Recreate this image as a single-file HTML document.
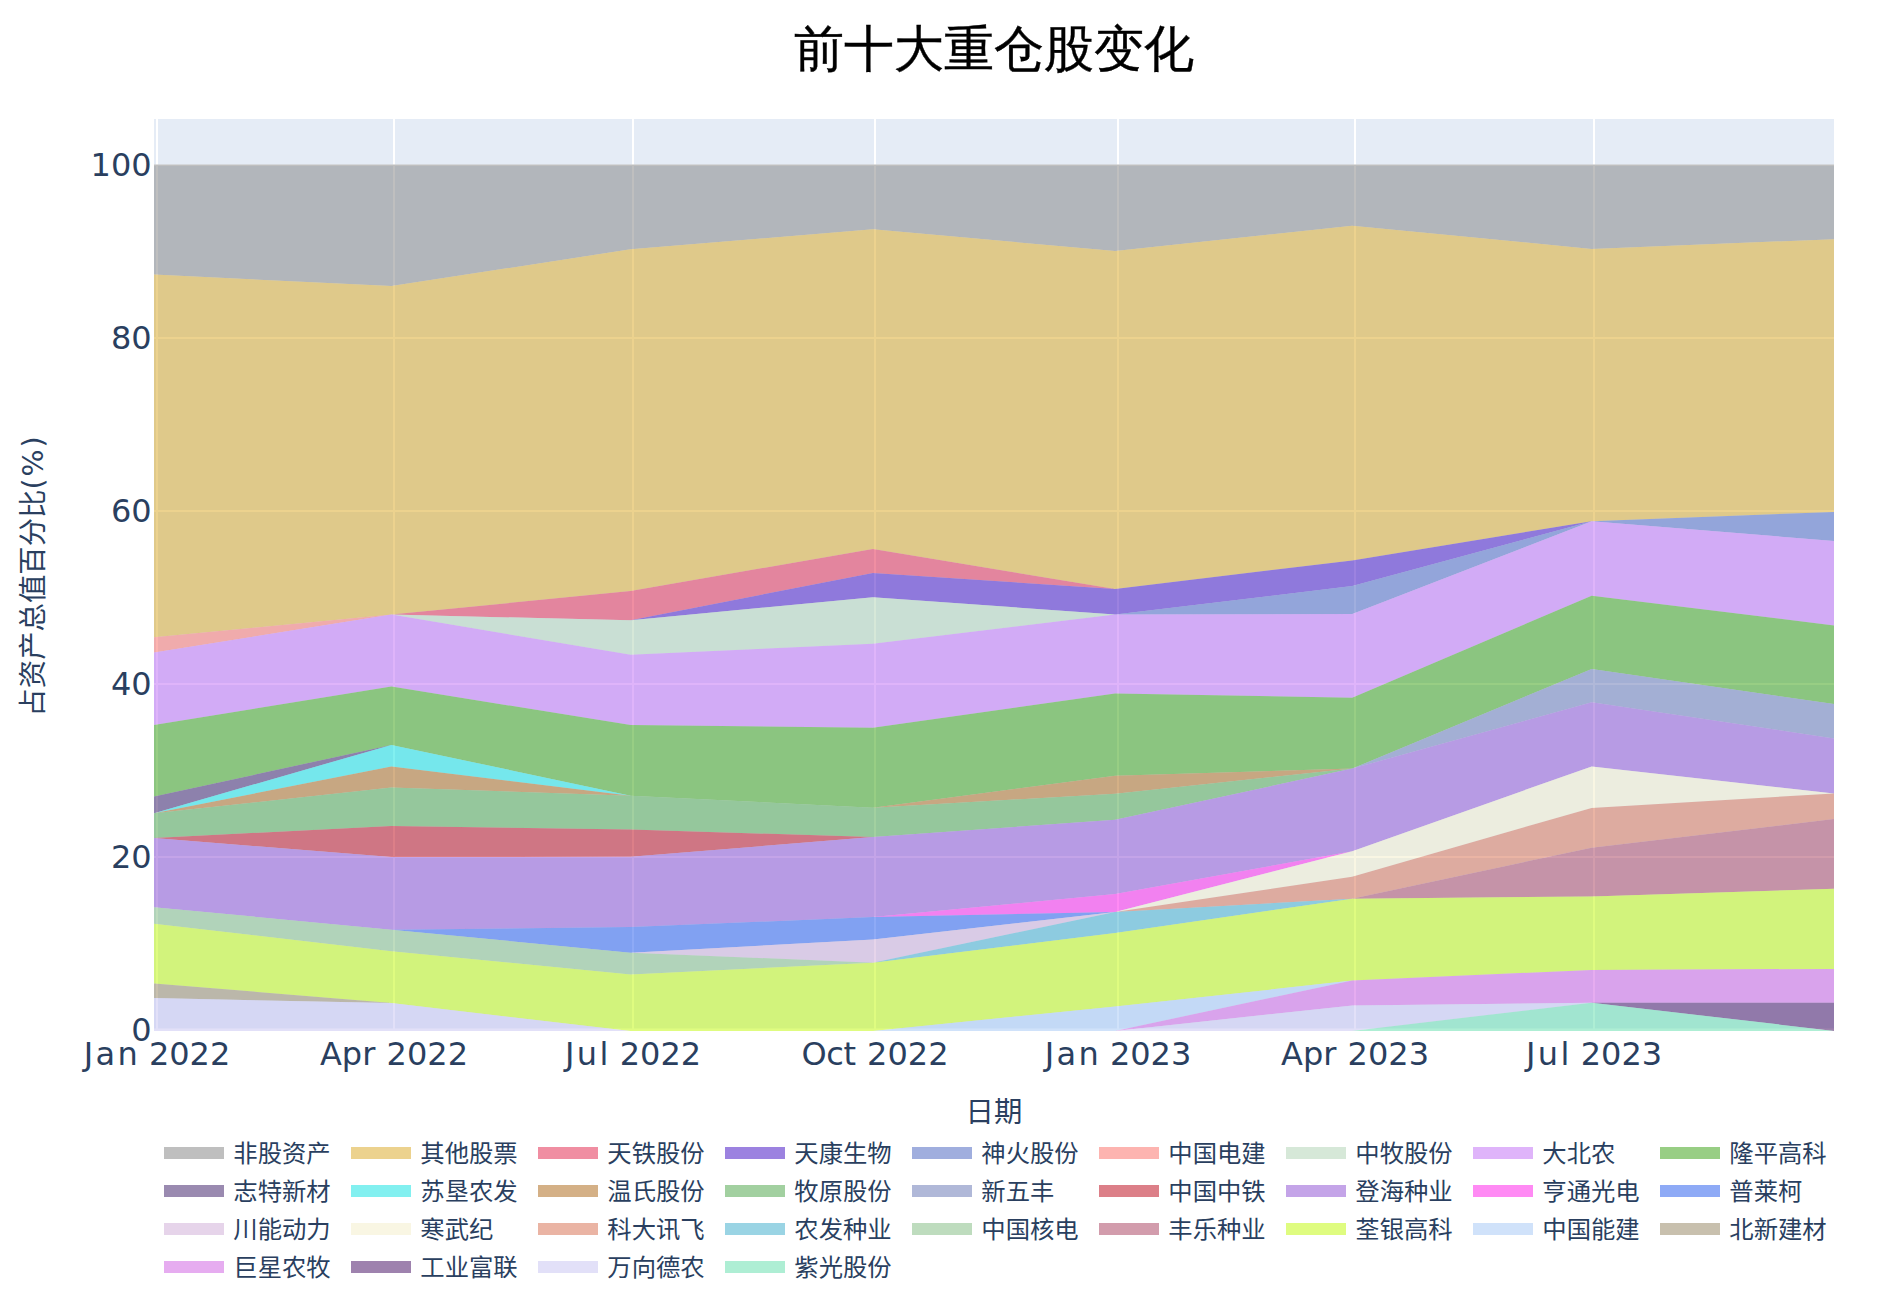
<!DOCTYPE html>
<html lang="zh"><head><meta charset="utf-8"><title>前十大重仓股变化</title>
<style>
html,body{margin:0;padding:0;background:#fff;}
body{width:1877px;height:1295px;overflow:hidden;}
svg{display:block;}
.t{font-family:"DejaVu Sans","Liberation Sans","Noto Sans CJK SC",sans-serif;fill:#2a3f5f;}
.c{font-family:"Liberation Sans","Noto Sans CJK SC",sans-serif;fill:#2a3f5f;}
</style></head><body>
<svg width="1877" height="1295" viewBox="0 0 1877 1295">
<rect x="0" y="0" width="1877" height="1295" fill="#ffffff"/>
<rect x="154.0" y="119.0" width="1680.0" height="911.9" fill="#E5ECF6"/>
<defs><clipPath id="pc"><rect x="154.0" y="119.0" width="1680.0" height="911.9"/></clipPath></defs>
<g clip-path="url(#pc)">
<line x1="157.0" x2="157.0" y1="119.0" y2="1030.9" stroke="#fff" stroke-width="2"/>
<line x1="394.0" x2="394.0" y1="119.0" y2="1030.9" stroke="#fff" stroke-width="2"/>
<line x1="633.0" x2="633.0" y1="119.0" y2="1030.9" stroke="#fff" stroke-width="2"/>
<line x1="875.0" x2="875.0" y1="119.0" y2="1030.9" stroke="#fff" stroke-width="2"/>
<line x1="1118.0" x2="1118.0" y1="119.0" y2="1030.9" stroke="#fff" stroke-width="2"/>
<line x1="1355.0" x2="1355.0" y1="119.0" y2="1030.9" stroke="#fff" stroke-width="2"/>
<line x1="1594.0" x2="1594.0" y1="119.0" y2="1030.9" stroke="#fff" stroke-width="2"/>
<line x1="154.0" x2="1834.0" y1="857.0" y2="857.0" stroke="#fff" stroke-width="2"/>
<line x1="154.0" x2="1834.0" y1="684.0" y2="684.0" stroke="#fff" stroke-width="2"/>
<line x1="154.0" x2="1834.0" y1="511.0" y2="511.0" stroke="#fff" stroke-width="2"/>
<line x1="154.0" x2="1834.0" y1="338.0" y2="338.0" stroke="#fff" stroke-width="2"/>
<line x1="154.0" x2="1834.0" y1="165.3" y2="165.3" stroke="#fff" stroke-width="1.4"/>
<line x1="154.0" x2="1834.0" y1="1029.75" y2="1029.75" stroke="#fff" stroke-width="2.3"/>
<polygon points="154.0,164.6 391.4,164.6 630.6,164.6 872.9,164.6 1115.1,164.6 1352.2,164.6 1591.7,164.6 1834.0,164.6 1834.0,239.2 1591.7,248.9 1352.2,225.8 1115.1,251.1 872.9,229.3 630.6,249.3 391.4,286.1 154.0,274.6" fill="rgba(127,127,127,0.5)"/>
<polygon points="154.0,274.6 391.4,286.1 630.6,249.3 872.9,229.3 1115.1,251.1 1352.2,225.8 1591.7,248.9 1834.0,239.2 1834.0,511.9 1591.7,521.3 1352.2,560.4 1115.1,589.1 872.9,548.9 630.6,591.1 391.4,614.5 154.0,637.2" fill="rgba(217,165,29,0.5)"/>
<polygon points="154.0,637.2 391.4,614.5 630.6,591.1 872.9,548.9 1115.1,589.1 1352.2,560.4 1591.7,521.3 1834.0,511.9 1834.0,511.9 1591.7,521.3 1352.2,560.4 1115.1,589.1 872.9,572.9 630.6,620.3 391.4,614.5 154.0,637.2" fill="rgba(225,29,69,0.5)"/>
<polygon points="154.0,637.2 391.4,614.5 630.6,620.3 872.9,572.9 1115.1,589.1 1352.2,560.4 1591.7,521.3 1834.0,511.9 1834.0,511.9 1591.7,521.3 1352.2,586.0 1115.1,614.6 872.9,597.2 630.6,620.3 391.4,614.5 154.0,637.2" fill="rgba(57,5,193,0.5)"/>
<polygon points="154.0,637.2 391.4,614.5 630.6,620.3 872.9,597.2 1115.1,614.6 1352.2,586.0 1591.7,521.3 1834.0,511.9 1834.0,541.0 1591.7,521.3 1352.2,613.9 1115.1,614.6 872.9,597.2 630.6,620.3 391.4,614.5 154.0,637.2" fill="rgba(65,93,189,0.5)"/>
<polygon points="154.0,637.2 391.4,614.5 630.6,620.3 872.9,597.2 1115.1,614.6 1352.2,613.9 1591.7,521.3 1834.0,541.0 1834.0,541.0 1591.7,521.3 1352.2,613.9 1115.1,614.6 872.9,597.2 630.6,620.3 391.4,614.5 154.0,652.6" fill="rgba(251,105,97,0.5)"/>
<polygon points="154.0,652.6 391.4,614.5 630.6,620.3 872.9,597.2 1115.1,614.6 1352.2,613.9 1591.7,521.3 1834.0,541.0 1834.0,541.0 1591.7,521.3 1352.2,613.9 1115.1,614.6 872.9,643.8 630.6,654.8 391.4,614.5 154.0,652.6" fill="rgba(173,209,177,0.5)"/>
<polygon points="154.0,652.6 391.4,614.5 630.6,654.8 872.9,643.8 1115.1,614.6 1352.2,613.9 1591.7,521.3 1834.0,541.0 1834.0,625.5 1591.7,595.7 1352.2,697.7 1115.1,693.4 872.9,727.7 630.6,725.1 391.4,686.6 154.0,725.0" fill="rgba(191,105,245,0.5)"/>
<polygon points="154.0,725.0 391.4,686.6 630.6,725.1 872.9,727.7 1115.1,693.4 1352.2,697.7 1591.7,595.7 1834.0,625.5 1834.0,704.0 1591.7,668.9 1352.2,768.6 1115.1,775.8 872.9,807.7 630.6,795.7 391.4,744.9 154.0,796.6" fill="rgba(49,157,9,0.5)"/>
<polygon points="154.0,796.6 391.4,744.9 630.6,795.7 872.9,807.7 1115.1,775.8 1352.2,768.6 1591.7,668.9 1834.0,704.0 1834.0,704.0 1591.7,668.9 1352.2,768.6 1115.1,775.8 872.9,807.7 630.6,795.7 391.4,744.9 154.0,813.2" fill="rgba(53,21,97,0.5)"/>
<polygon points="154.0,813.2 391.4,744.9 630.6,795.7 872.9,807.7 1115.1,775.8 1352.2,768.6 1591.7,668.9 1834.0,704.0 1834.0,704.0 1591.7,668.9 1352.2,768.6 1115.1,775.8 872.9,807.7 630.6,795.7 391.4,766.6 154.0,813.2" fill="rgba(5,225,225,0.5)"/>
<polygon points="154.0,813.2 391.4,766.6 630.6,795.7 872.9,807.7 1115.1,775.8 1352.2,768.6 1591.7,668.9 1834.0,704.0 1834.0,704.0 1591.7,668.9 1352.2,768.6 1115.1,793.7 872.9,807.7 630.6,795.7 391.4,787.6 154.0,813.2" fill="rgba(169,97,13,0.5)"/>
<polygon points="154.0,813.2 391.4,787.6 630.6,795.7 872.9,807.7 1115.1,793.7 1352.2,768.6 1591.7,668.9 1834.0,704.0 1834.0,704.0 1591.7,668.9 1352.2,768.6 1115.1,819.7 872.9,837.1 630.6,829.5 391.4,826.0 154.0,838.0" fill="rgba(69,161,65,0.5)"/>
<polygon points="154.0,838.0 391.4,826.0 630.6,829.5 872.9,837.1 1115.1,819.7 1352.2,768.6 1591.7,668.9 1834.0,704.0 1834.0,738.4 1591.7,702.2 1352.2,768.6 1115.1,819.7 872.9,837.1 630.6,829.5 391.4,826.0 154.0,838.0" fill="rgba(97,113,177,0.5)"/>
<polygon points="154.0,838.0 391.4,826.0 630.6,829.5 872.9,837.1 1115.1,819.7 1352.2,768.6 1591.7,702.2 1834.0,738.4 1834.0,738.4 1591.7,702.2 1352.2,768.6 1115.1,819.7 872.9,837.1 630.6,856.8 391.4,857.0 154.0,838.0" fill="rgba(185,0,17,0.5)"/>
<polygon points="154.0,838.0 391.4,857.0 630.6,856.8 872.9,837.1 1115.1,819.7 1352.2,768.6 1591.7,702.2 1834.0,738.4 1834.0,793.4 1591.7,766.4 1352.2,851.2 1115.1,894.1 872.9,917.1 630.6,927.1 391.4,929.7 154.0,907.2" fill="rgba(137,73,209,0.5)"/>
<polygon points="154.0,907.2 391.4,929.7 630.6,927.1 872.9,917.1 1115.1,894.1 1352.2,851.2 1591.7,766.4 1834.0,793.4 1834.0,793.4 1591.7,766.4 1352.2,851.2 1115.1,912.0 872.9,917.1 630.6,927.1 391.4,929.7 154.0,907.2" fill="rgba(255,21,233,0.5)"/>
<polygon points="154.0,907.2 391.4,929.7 630.6,927.1 872.9,917.1 1115.1,912.0 1352.2,851.2 1591.7,766.4 1834.0,793.4 1834.0,793.4 1591.7,766.4 1352.2,851.2 1115.1,912.0 872.9,939.4 630.6,952.7 391.4,929.7 154.0,907.2" fill="rgba(29,85,237,0.5)"/>
<polygon points="154.0,907.2 391.4,929.7 630.6,952.7 872.9,939.4 1115.1,912.0 1352.2,851.2 1591.7,766.4 1834.0,793.4 1834.0,793.4 1591.7,766.4 1352.2,851.2 1115.1,912.0 872.9,962.7 630.6,952.7 391.4,929.7 154.0,907.2" fill="rgba(205,169,213,0.5)"/>
<polygon points="154.0,907.2 391.4,929.7 630.6,952.7 872.9,962.7 1115.1,912.0 1352.2,851.2 1591.7,766.4 1834.0,793.4 1834.0,793.4 1591.7,807.9 1352.2,876.7 1115.1,912.0 872.9,962.7 630.6,952.7 391.4,929.7 154.0,907.2" fill="rgba(243,237,199,0.5)"/>
<polygon points="154.0,907.2 391.4,929.7 630.6,952.7 872.9,962.7 1115.1,912.0 1352.2,876.7 1591.7,807.9 1834.0,793.4 1834.0,819.0 1591.7,847.7 1352.2,898.7 1115.1,912.0 872.9,962.7 630.6,952.7 391.4,929.7 154.0,907.2" fill="rgba(213,105,73,0.5)"/>
<polygon points="154.0,907.2 391.4,929.7 630.6,952.7 872.9,962.7 1115.1,912.0 1352.2,898.7 1591.7,847.7 1834.0,819.0 1834.0,819.0 1591.7,847.7 1352.2,898.7 1115.1,933.0 872.9,962.7 630.6,952.7 391.4,929.7 154.0,907.2" fill="rgba(53,169,201,0.5)"/>
<polygon points="154.0,907.2 391.4,929.7 630.6,952.7 872.9,962.7 1115.1,933.0 1352.2,898.7 1591.7,847.7 1834.0,819.0 1834.0,819.0 1591.7,847.7 1352.2,898.7 1115.1,933.0 872.9,962.7 630.6,974.4 391.4,951.2 154.0,923.8" fill="rgba(125,185,125,0.5)"/>
<polygon points="154.0,923.8 391.4,951.2 630.6,974.4 872.9,962.7 1115.1,933.0 1352.2,898.7 1591.7,847.7 1834.0,819.0 1834.0,888.8 1591.7,896.5 1352.2,898.7 1115.1,933.0 872.9,962.7 630.6,974.4 391.4,951.2 154.0,923.8" fill="rgba(165,57,89,0.5)"/>
<polygon points="154.0,923.8 391.4,951.2 630.6,974.4 872.9,962.7 1115.1,933.0 1352.2,898.7 1591.7,896.5 1834.0,888.8 1834.0,968.9 1591.7,969.9 1352.2,980.6 1115.1,1006.6 872.9,1030.9 630.6,1030.9 391.4,1003.1 154.0,983.4" fill="rgba(191,249,1,0.5)"/>
<polygon points="154.0,983.4 391.4,1003.1 630.6,1030.9 872.9,1030.9 1115.1,1006.6 1352.2,980.6 1591.7,969.9 1834.0,968.9 1834.0,968.9 1591.7,969.9 1352.2,980.6 1115.1,1030.9 872.9,1030.9 630.6,1030.9 391.4,1003.1 154.0,983.4" fill="rgba(161,197,245,0.5)"/>
<polygon points="154.0,983.4 391.4,1003.1 630.6,1030.9 872.9,1030.9 1115.1,1030.9 1352.2,980.6 1591.7,969.9 1834.0,968.9 1834.0,968.9 1591.7,969.9 1352.2,980.6 1115.1,1030.9 872.9,1030.9 630.6,1030.9 391.4,1003.1 154.0,998.0" fill="rgba(145,129,93,0.5)"/>
<polygon points="154.0,998.0 391.4,1003.1 630.6,1030.9 872.9,1030.9 1115.1,1030.9 1352.2,980.6 1591.7,969.9 1834.0,968.9 1834.0,1002.7 1591.7,1002.7 1352.2,1005.4 1115.1,1030.9 872.9,1030.9 630.6,1030.9 391.4,1003.1 154.0,998.0" fill="rgba(205,89,225,0.5)"/>
<polygon points="154.0,998.0 391.4,1003.1 630.6,1030.9 872.9,1030.9 1115.1,1030.9 1352.2,1005.4 1591.7,1002.7 1834.0,1002.7 1834.0,1030.9 1591.7,1002.7 1352.2,1005.4 1115.1,1030.9 872.9,1030.9 630.6,1030.9 391.4,1003.1 154.0,998.0" fill="rgba(61,5,93,0.5)"/>
<polygon points="154.0,998.0 391.4,1003.1 630.6,1030.9 872.9,1030.9 1115.1,1030.9 1352.2,1005.4 1591.7,1002.7 1834.0,1030.9 1834.0,1030.9 1591.7,1002.7 1352.2,1030.9 1115.1,1030.9 872.9,1030.9 630.6,1030.9 391.4,1030.9 154.0,1030.9" fill="rgba(197,193,241,0.5)"/>
<polygon points="154.0,1030.9 391.4,1030.9 630.6,1030.9 872.9,1030.9 1115.1,1030.9 1352.2,1030.9 1591.7,1002.7 1834.0,1030.9 1834.0,1030.9 1591.7,1030.9 1352.2,1030.9 1115.1,1030.9 872.9,1030.9 630.6,1030.9 391.4,1030.9 154.0,1030.9" fill="rgba(93,221,169,0.5)"/>
</g>
<text x="994" y="66" text-anchor="middle" font-size="50" style="font-family:'Liberation Sans','WenQuanYi Zen Hei',sans-serif" fill="#000" stroke="#000" stroke-width="0.4">前十大重仓股变化</text>
<text class="t" x="151.7" y="1041.4" text-anchor="end" font-size="32">0</text>
<text class="t" x="151.7" y="868.3" text-anchor="end" font-size="32">20</text>
<text class="t" x="151.7" y="695.2" text-anchor="end" font-size="32">40</text>
<text class="t" x="151.7" y="522.1" text-anchor="end" font-size="32">60</text>
<text class="t" x="151.7" y="349.0" text-anchor="end" font-size="32">80</text>
<text class="t" x="151.7" y="175.9" text-anchor="end" font-size="32">100</text>
<text class="t" y="1065" font-size="32"><tspan x="83.7" textLength="54.0" lengthAdjust="spacing">Jan</tspan> <tspan x="148.9">2022</tspan></text>
<text class="t" y="1065" font-size="32"><tspan x="319.9" textLength="55.5" lengthAdjust="spacing">Apr</tspan> <tspan x="386.6">2022</tspan></text>
<text class="t" y="1065" font-size="32"><tspan x="564.9" textLength="43.6" lengthAdjust="spacing">Jul</tspan> <tspan x="619.7">2022</tspan></text>
<text class="t" y="1065" font-size="32"><tspan x="801.5" textLength="54.5" lengthAdjust="spacing">Oct</tspan> <tspan x="867.1">2022</tspan></text>
<text class="t" y="1065" font-size="32"><tspan x="1044.7" textLength="54.0" lengthAdjust="spacing">Jan</tspan> <tspan x="1109.9">2023</tspan></text>
<text class="t" y="1065" font-size="32"><tspan x="1281.0" textLength="55.5" lengthAdjust="spacing">Apr</tspan> <tspan x="1347.6">2023</tspan></text>
<text class="t" y="1065" font-size="32"><tspan x="1525.9" textLength="43.6" lengthAdjust="spacing">Jul</tspan> <tspan x="1580.7">2023</tspan></text>
<text class="c" x="994" y="1122.4" text-anchor="middle" font-size="28.4">日期</text>
<text class="c" transform="translate(43,575.5) rotate(-90)" text-anchor="middle" font-size="28.4">占资产总值百分比<tspan class="t" letter-spacing="2">(%)</tspan></text>
<rect x="164.0" y="1147.0" width="60" height="12" fill="rgba(127,127,127,0.5)"/>
<text class="c" x="233.3" y="1161.5" font-size="24.35">非股资产</text>
<rect x="351.0" y="1147.0" width="60" height="12" fill="rgba(217,165,29,0.5)"/>
<text class="c" x="420.3" y="1161.5" font-size="24.35">其他股票</text>
<rect x="538.0" y="1147.0" width="60" height="12" fill="rgba(225,29,69,0.5)"/>
<text class="c" x="607.3" y="1161.5" font-size="24.35">天铁股份</text>
<rect x="725.0" y="1147.0" width="60" height="12" fill="rgba(57,5,193,0.5)"/>
<text class="c" x="794.3" y="1161.5" font-size="24.35">天康生物</text>
<rect x="912.0" y="1147.0" width="60" height="12" fill="rgba(65,93,189,0.5)"/>
<text class="c" x="981.3" y="1161.5" font-size="24.35">神火股份</text>
<rect x="1099.0" y="1147.0" width="60" height="12" fill="rgba(251,105,97,0.5)"/>
<text class="c" x="1168.3" y="1161.5" font-size="24.35">中国电建</text>
<rect x="1286.0" y="1147.0" width="60" height="12" fill="rgba(173,209,177,0.5)"/>
<text class="c" x="1355.3" y="1161.5" font-size="24.35">中牧股份</text>
<rect x="1473.0" y="1147.0" width="60" height="12" fill="rgba(191,105,245,0.5)"/>
<text class="c" x="1542.3" y="1161.5" font-size="24.35">大北农</text>
<rect x="1660.0" y="1147.0" width="60" height="12" fill="rgba(49,157,9,0.5)"/>
<text class="c" x="1729.3" y="1161.5" font-size="24.35">隆平高科</text>
<rect x="164.0" y="1185.0" width="60" height="12" fill="rgba(53,21,97,0.5)"/>
<text class="c" x="233.3" y="1199.5" font-size="24.35">志特新材</text>
<rect x="351.0" y="1185.0" width="60" height="12" fill="rgba(5,225,225,0.5)"/>
<text class="c" x="420.3" y="1199.5" font-size="24.35">苏垦农发</text>
<rect x="538.0" y="1185.0" width="60" height="12" fill="rgba(169,97,13,0.5)"/>
<text class="c" x="607.3" y="1199.5" font-size="24.35">温氏股份</text>
<rect x="725.0" y="1185.0" width="60" height="12" fill="rgba(69,161,65,0.5)"/>
<text class="c" x="794.3" y="1199.5" font-size="24.35">牧原股份</text>
<rect x="912.0" y="1185.0" width="60" height="12" fill="rgba(97,113,177,0.5)"/>
<text class="c" x="981.3" y="1199.5" font-size="24.35">新五丰</text>
<rect x="1099.0" y="1185.0" width="60" height="12" fill="rgba(185,0,17,0.5)"/>
<text class="c" x="1168.3" y="1199.5" font-size="24.35">中国中铁</text>
<rect x="1286.0" y="1185.0" width="60" height="12" fill="rgba(137,73,209,0.5)"/>
<text class="c" x="1355.3" y="1199.5" font-size="24.35">登海种业</text>
<rect x="1473.0" y="1185.0" width="60" height="12" fill="rgba(255,21,233,0.5)"/>
<text class="c" x="1542.3" y="1199.5" font-size="24.35">亨通光电</text>
<rect x="1660.0" y="1185.0" width="60" height="12" fill="rgba(29,85,237,0.5)"/>
<text class="c" x="1729.3" y="1199.5" font-size="24.35">普莱柯</text>
<rect x="164.0" y="1223.0" width="60" height="12" fill="rgba(205,169,213,0.5)"/>
<text class="c" x="233.3" y="1237.5" font-size="24.35">川能动力</text>
<rect x="351.0" y="1223.0" width="60" height="12" fill="rgba(243,237,199,0.5)"/>
<text class="c" x="420.3" y="1237.5" font-size="24.35">寒武纪</text>
<rect x="538.0" y="1223.0" width="60" height="12" fill="rgba(213,105,73,0.5)"/>
<text class="c" x="607.3" y="1237.5" font-size="24.35">科大讯飞</text>
<rect x="725.0" y="1223.0" width="60" height="12" fill="rgba(53,169,201,0.5)"/>
<text class="c" x="794.3" y="1237.5" font-size="24.35">农发种业</text>
<rect x="912.0" y="1223.0" width="60" height="12" fill="rgba(125,185,125,0.5)"/>
<text class="c" x="981.3" y="1237.5" font-size="24.35">中国核电</text>
<rect x="1099.0" y="1223.0" width="60" height="12" fill="rgba(165,57,89,0.5)"/>
<text class="c" x="1168.3" y="1237.5" font-size="24.35">丰乐种业</text>
<rect x="1286.0" y="1223.0" width="60" height="12" fill="rgba(191,249,1,0.5)"/>
<text class="c" x="1355.3" y="1237.5" font-size="24.35">荃银高科</text>
<rect x="1473.0" y="1223.0" width="60" height="12" fill="rgba(161,197,245,0.5)"/>
<text class="c" x="1542.3" y="1237.5" font-size="24.35">中国能建</text>
<rect x="1660.0" y="1223.0" width="60" height="12" fill="rgba(145,129,93,0.5)"/>
<text class="c" x="1729.3" y="1237.5" font-size="24.35">北新建材</text>
<rect x="164.0" y="1261.0" width="60" height="12" fill="rgba(205,89,225,0.5)"/>
<text class="c" x="233.3" y="1275.5" font-size="24.35">巨星农牧</text>
<rect x="351.0" y="1261.0" width="60" height="12" fill="rgba(61,5,93,0.5)"/>
<text class="c" x="420.3" y="1275.5" font-size="24.35">工业富联</text>
<rect x="538.0" y="1261.0" width="60" height="12" fill="rgba(197,193,241,0.5)"/>
<text class="c" x="607.3" y="1275.5" font-size="24.35">万向德农</text>
<rect x="725.0" y="1261.0" width="60" height="12" fill="rgba(93,221,169,0.5)"/>
<text class="c" x="794.3" y="1275.5" font-size="24.35">紫光股份</text>
</svg>
</body></html>
